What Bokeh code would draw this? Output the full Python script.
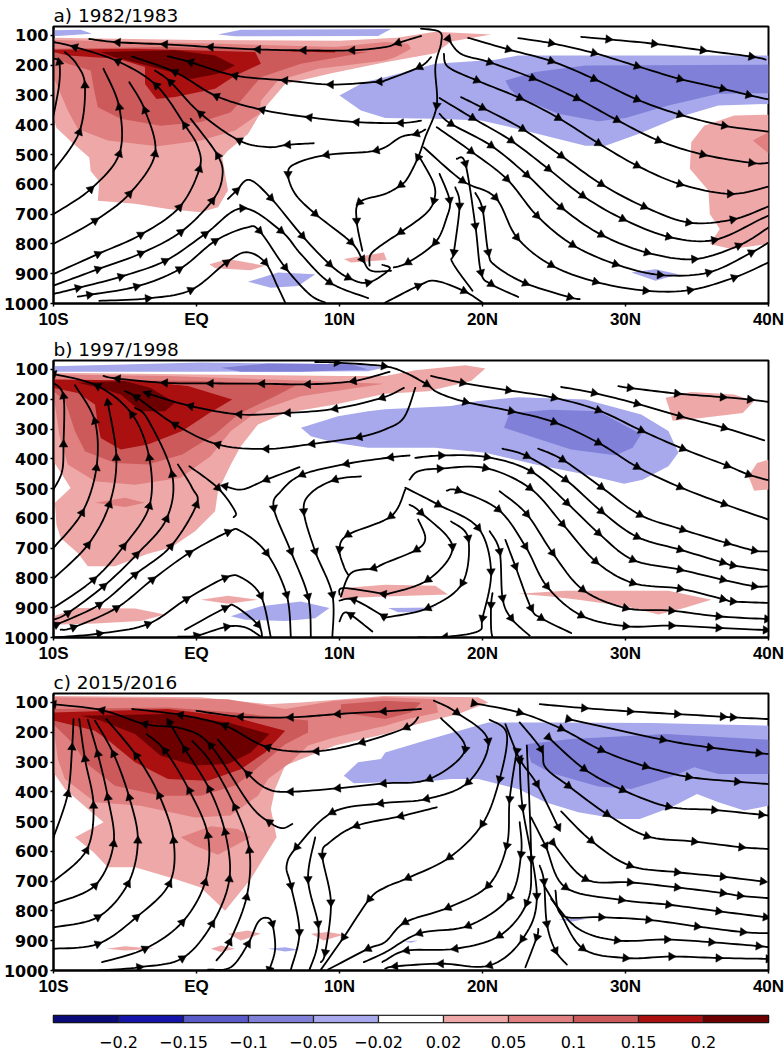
import math
from bokeh.plotting import figure
from bokeh.layouts import column
from bokeh.models import Range1d, FixedTicker, Title
from bokeh.embed import file_html
from bokeh.resources import INLINE

# colour classes: 0..4 blues (weak to strong), 5..9 reds (weak to strong)
B1, B2, B3, B4, B5, P1, P2, P3, P4, P5 = range(10)
class_colors = ["#a8a8ec", "#8080d8", "#5a5ac8", "#1414aa", "#0a0a78",
                "#eea8a8", "#e08080", "#cc5a5a", "#aa1010", "#6c0000"]
bar_colors = ["#0a0a78", "#1414aa", "#5a5ac8", "#8080d8", "#a8a8ec", "#ffffff",
              "#eea8a8", "#e08080", "#cc5a5a", "#aa1010", "#6c0000"]
bar_labels = ["\u22120.2", "\u22120.15", "\u22120.1", "\u22120.05", "\u22120.02",
              "0.02", "0.05", "0.1", "0.15", "0.2"]
lat_ticks = [-10, 0, 10, 20, 30, 40]
lat_labels = ["10S", "EQ", "10N", "20N", "30N", "40N"]
p_ticks = [100, 200, 300, 400, 500, 600, 700, 800, 900, 1000]
titles = ["a) 1982/1983", "b) 1997/1998", "c) 2015/2016"]

shades_a = [
 (P1, [(-10,108),(0,115),(10,118),(14,108),(16.7,88),(20.6,97),(17.8,120),(16.7,160),(13.2,190),(9.6,225),(6.2,263),(5,330),(4.3,375),(3.6,431),(2.2,487),(1.8,509),(2,565),(2.2,621),(1.5,677),(.3,694),(-2,683),(-4.3,665),(-6.9,655),(-6.8,590),(-7.4,555),(-7.5,510),(-8.8,455),(-9.8,410),(-10,375)]),
 (P2, [(-10,115),(.3,126),(9.7,139),(13.2,122),(14.8,128),(15,145),(13.9,173),(13.2,184),(8.5,212),(5.7,251),(4.5,319),(4.4,363),(2.7,419),(.3,453),(-2.7,472),(-6.2,453),(-8.3,414),(-9,352),(-9.6,285),(-10,240)]),
 (P3, [(-10,145),(-2,139),(6.2,150),(12,156),(7.3,195),(4.5,240),(3.1,319),(2.4,358),(.3,391),(-2.5,403),(-5.3,380),(-6.9,341),(-7.2,274),(-7.4,218),(-9,195),(-10,173)]),
 (P4, [(-10,148),(-4.3,145),(4.1,156),(4.5,195),(2.7,235),(1.3,279),(-1.5,307),(-2.8,313),(-3.6,263),(-3.6,206),(-5.5,178),(-9,167),(-10,156)]),
 (P4, [(6.2,150),(9.7,150),(9.7,157),(6.2,153)]),
 (P5, [(-6.7,156),(-1.5,150),(1.3,167),(2.7,201),(1.5,229),(-.4,246),(-1.8,223),(-3.9,195),(-5.7,173)]),
 (B1, [(10,302),(11.7,257),(13.2,240),(16.7,195),(20.9,182),(22.5,167),(40,167),(40,330),(36.5,335),(33.7,375),(30.9,431),(28.6,470),(27.2,470),(22.5,414),(19.9,386),(16.7,380),(13.2,377),(11.5,352)]),
 (B2, [(21.6,251),(23.7,223),(27.2,201),(40,198),(40,294),(36.5,296),(33,335),(30,377),(28.1,388),(25.3,363),(22.5,307),(21.9,279)]),
 (P1, [(40,366),(37.6,369),(35.5,403),(34.6,459),(34.5,548),(35.8,621),(35.9,700),(36.6,750),(35.9,800),(37.4,817),(40,800)]),
 (P2, [(40,425),(38.9,453),(40,496)]),
 (B1, [(30.4,896),(32.1,885),(33.7,902),(32.1,924)]),
 (P1, [(.9,868),(2.2,851),(4.8,873),(3.8,888),(1.3,882)]),
 (P1, [(10.3,851),(13.1,829),(13.3,854),(10.8,862)]),
 (B1, [(3.6,927),(5.7,896),(8.3,902),(7.1,941),(5.2,947)]),
 (B1, [(-10,83),(-8.1,81),(-7.3,94),(-10,103)]),
 (B1, [(1.5,97),(3.1,81),(13.6,78),(12.7,102),(2.7,103)]),
]

streams_a = [
 [(15.7,102),(14.1,125,1),(13.2,139),(10.9,150,1),(7.5,150,1),(4.3,147,1),(1,139,1),(-2.2,130,1),(-5.5,123,1),(-7.5,112)],
 [(-10,901),(-6.9,834,1),(-3.9,769,1),(-1.2,677,1),(.2,549,1),(.1,475),(-.8,402,1),(-2.8,268,1),(-5.5,187,1),(-8.5,139,1),(-10,122)],
 [(-10,800),(-7.1,722,1),(-4.7,632,1),(-2.9,498,1),(-3.6,352,1),(-4.7,257)],
 [(-10,700),(-7.4,616,1),(-5.4,498,1),(-5.4,341,1),(-6.5,212)],
 [(-10,554),(-8.2,425,1),(-7.8,268,1),(-8.4,195),(-9.2,156)],
 [(-10,369),(-9.6,263),(-9.6,190,1),(-10,178)],
 [(-10,940),(-6.9,885,1),(-3.9,832,1),(-1.1,760,1),(1.1,655,1),(1.8,577),(1.5,504,1),(-.4,380)],
 [(-10,968),(-8.3,948,1),(-5.3,910,1),(-2.2,857,1),(.6,767,1),(3.2,680,1),(5.9,756,1),(7.3,834),(9.3,929,1),(12,982)],
 [(-8.3,977),(-7.5,971,1),(-4.2,943,1),(-1.2,885,1),(1.3,790,1),(3.5,745),(4.4,756,1),(6.2,879,1),(7.9,969),(9,997)],
 [(-6.8,991),(-3.4,983,1),(-.4,955,1),(2.1,862,1),(3.5,828),(4.8,862,1),(5.7,946),(6.2,997)],
 [(2.2,649),(2.8,621,1),(3.7,585),(5.2,646,1),(7.4,773,1),(9.3,868,1),(10.6,913,1),(12,930,1),(13.5,885),(13,870)],
 [(16,416),(15.4,430,1),(14.3,441),(12.6,486,1),(9.1,501,1),(6.9,531),(6.4,565,1),(6.9,632),(8.3,699,1),(10.8,794,1),(11.6,851,1),(12.2,890),(13.6,890)],
 [(15.7,77),(17,88),(17.1,127),(16.7,206),(16.8,335,1),(16,441),(15.5,509,1),(14.8,576),(14.3,602,1),(13.2,632),(11.4,660,1),(11.2,722,1),(11.6,823)],
 [(16.4,173),(15.6,206,1),(13.2,251),(12.8,255,1),(9.4,265,1),(6.2,251,1),(2.7,235,1),(-.4,190,1),(-2,170)],
 [(15.7,386),(14.3,394,1),(11.2,391,1),(7.9,375,1),(4.6,350,1),(1.4,304,1),(-1.5,223,1),(-4.5,171)],
 [(8.2,462),(6.4,467,1),(5,475),(3,453,1),(.3,363,1),(-1.8,257,1),(-2.9,218)],
 [(15.6,509),(16.6,599),(16.6,655,1),(16,700),(14.3,760,1),(13.2,795),(12.2,834),(12.1,873)],
 [(17,565),(17.7,653,1),(17.5,711),(16.7,795,1),(14.8,862,1),(13.8,879)],
 [(18.1,610),(18.4,671,1),(18,828,1),(17.9,862),(19.3,957)],
 [(18.2,514),(18.8,530,1),(19.5,739,1),(19.9,896,1),(20.6,935,1),(22.5,978)],
 [(19.5,629),(20,683,1),(20.4,828,1),(20.9,873),(23,932,1),(26.1,979,1),(26.8,985)],
 [(13.2,997),(15.5,941,1),(16.7,924),(18.7,958,1),(20,997)],
 [(26.9,105),(28.8,113,1),(32,128,1),(35.4,150,1),(38.8,171,1),(39.8,181)],
 [(22.5,109),(24.8,126,1),(27.8,159,1),(30.8,203,1),(33.8,246,1),(36.8,279,1),(38.6,300,1),(40,315)],
 [(19,108),(21.8,147,1),(24.8,186,1),(27.8,246,1),(30.8,315,1),(33.8,366,1),(36.9,403,1),(40,423)],
 [(17.6,111,1),(18.5,162),(20.5,190,1),(23.5,243,1),(26.6,311,1),(29.4,384,1),(32.3,453,1),(35.4,500,1),(38.8,528,1),(40,528)],
 [(17.3,162),(17.6,206),(19.6,251,1),(22.6,310,1),(25.3,377,1),(28.1,462,1),(30.8,537,1),(33.8,599,1),(37.3,632,1),(40,608)],
 [(17,310),(19.3,377,1),(22,453,1),(24.6,548,1),(27,638,1),(29.8,716,1),(33,776,1),(36.2,787,1),(39.4,718),(40,705)],
 [(18.5,307),(20,343,1),(22.8,414,1),(25.5,504,1),(28.3,599,1),(31.3,675,1),(34.4,728,1),(37.5,718,1),(40,674)],
 [(17,363),(17.8,397,1),(20.6,470,1),(23.1,568,1),(25.5,677,1),(28.3,769,1),(31.5,829,1),(34.8,851,1),(37.9,806,1),(40,745)],
 [(16.8,408),(19.2,489,1),(21.7,582,1),(23.8,705,1),(26.3,803,1),(29.3,868,1),(32.4,904,1),(35.8,896,1),(38.8,829,1),(40,795)],
 [(15.9,476),(18.6,588,1),(20.9,644,1),(22.4,778,1),(24.8,871,1),(27.9,927,1),(31.4,957,1),(34.5,955,1),(37.6,913,1),(40,862)],
]

shades_b = [
 (P1, [(-10,111),(.3,117),(10,122),(13.2,122),(15.3,103),(18.8,86),(20.2,97),(19.2,139),(16.2,173),(13.2,182),(9.7,218),(6.2,246),(4.3,285),(3.1,358),(2.4,419),(1.5,509),(1.3,576),(-.1,643),(-1.8,699),(-3.4,719),(-5.7,761),(-7.6,761),(-8.3,716),(-9.5,666),(-9.8,621),(-9.9,548),(-8.8,498),(-9.7,431),(-10,408)]),
 (P2, [(-10,117),(-2,122),(7.3,137),(13.1,148),(7.3,190),(4.3,240),(2.4,307),(1,391),(-1.1,464),(-4.3,487),(-7.1,475),(-9,419),(-9.6,319),(-10,184)]),
 (P2, [(-7.1,548),(-5,531),(-3.6,548),(-5,562)]),
 (P3, [(-10,134),(.3,139),(7.1,150),(5.5,190),(2.9,251),(1.3,318),(-1,386),(-3.4,419),(-5.7,414),(-7.8,375),(-8.5,307),(-9.2,206),(-10,173)]),
 (P4, [(-10,134),(-4.3,137),(-.6,156),(2.5,201),(.9,246),(-1,307),(-3.4,352),(-5.3,369),(-6.7,330),(-6.9,285),(-7.1,218),(-8.3,179),(-10,162)]),
 (P5, [(-8.3,145),(-5,139),(-3.2,162),(-1.5,212),(-2.2,240),(-3.9,240),(-5.3,184),(-6.7,162)]),
 (P1, [(-10,929),(-8.3,901),(-4.3,903),(-2.2,923),(-3.9,945),(-7.1,953),(-10,957)]),
 (P1, [(.3,873),(2.2,860),(4.3,873),(2.2,887)]),
 (P1, [(10.3,834),(13.2,823),(16.7,826),(17.6,856),(13.2,862),(10,868)]),
 (B1, [(-10,89),(.3,77),(12,83),(13.1,94),(12,106),(.3,108),(-10,108)]),
 (B2, [(1.7,94),(5,80),(10.8,83),(12,100),(7.3,108),(3.1,108)]),
 (B1, [(7.3,296),(9.9,257),(12,240),(13.2,234),(17.8,223),(19.7,206),(22.5,193),(27.2,201),(31.1,251),(33,307),(33.7,380),(33,425),(31.2,470),(29.9,484),(27.2,453),(23.7,419),(20.2,380),(16.7,363),(13.2,363),(12,363),(9.7,346),(8,324)]),
 (B2, [(21.9,246),(24.8,235),(28.1,240),(31.1,318),(30.5,363),(29.3,388),(26.2,369),(23.7,330),(21.5,296)]),
 (P1, [(32.8,195),(34.6,176),(37.6,184),(39,206),(38.2,246),(35.3,263),(33.3,272),(33,223)]),
 (P1, [(40,403),(39.2,414),(38.6,459),(39,507),(40,503)]),
 (P1, [(22.5,853),(25.8,843),(33,843),(36,873),(34.1,901),(32.3,923),(30,895),(26.7,873),(24.8,862)]),
 (B1, [(13.4,901),(16.7,899),(15.5,915),(14.1,915)]),
 (B1, [(2.4,929),(4.5,895),(7.3,879),(9.3,901),(8.3,935),(6.2,945),(3.4,940)]),
]

streams_b = [
 [(13.5,108),(11,139,1),(7.8,150,1),(4.6,148,1),(1,147,1),(-2.2,145,1),(-5.5,131,1),(-6.5,122)],
 [(14.5,162),(13,195,1),(9.7,232,1),(6.4,246,1),(3,251,1),(-.4,223,1),(-3.4,181,1),(-3.6,175)],
 [(15.3,162),(14.5,262),(13.2,301),(11.4,327,1),(8.1,350,1),(4.9,367,1),(1.5,352,1),(-1.5,285,1),(-4.2,193,1),(-5,173)],
 [(-10,699),(-8,581,1),(-7,431,1),(-7.1,274,1),(-8.5,153)],
 [(-10,802),(-7.6,689,1),(-6.1,554,1),(-5.6,397,1),(-6.2,212,1)],
 [(-10,901),(-7.2,806,1),(-5.1,694,1),(-3.3,559,1),(-3.3,397,1),(-4.5,251,1),(-6.9,156,1),(-10,115,1)],
 [(-10,940),(-9,918,1),(-6.5,828,1),(-4.2,722,1),(-2.1,602,1),(-1.7,453,1),(-3.4,268),(-4.3,229)],
 [(-10,965),(-9.8,957,1),(-6.8,890,1),(-4.3,789,1),(-1.8,694,1),(0,554,1),(-.3,498),(-1.3,419)],
 [(-9.5,974),(-8.6,966,1),(-5.6,901,1),(-3.1,806,1),(-.5,716,1),(2.2,646,1),(3.1,643),(4.9,716,1),(6.3,856,1),(6.6,1000)],
 [(-10,1000),(-6.8,987,1),(-3.4,955,1),(-.7,871,1),(2,800,1),(3.1,798),(4.5,860,1),(5.2,1000)],
 [(-.8,974),(2,901,1),(2.7,895),(4.3,957,1),(4.6,1000)],
 [(-1.3,997),(0,994,1),(2.1,964,1),(3.4,966),(4.5,997)],
 [(-10,503),(-9.4,442),(-9.3,352,1),(-9.3,190,1),(-10,145)],
 [(-.5,425),(1.5,498,1),(2.7,576),(2.6,596)],
 [(7.2,428),(4.9,470,1),(3.2,503),(2,492,1)],
 [(14.9,389),(13.6,395,1),(10.5,417,1),(7.4,453,1),(5.9,509),(5.4,565,1),(6.6,711,1),(7.8,862,1),(8,1000)],
 [(11.5,459),(9.7,470,1),(8,515),(7.5,576,1),(8.3,711,1),(9.5,856,1),(9.5,1000)],
 [(14.6,503),(13.6,593,1),(10.6,655,1),(10,703,1),(10.3,761),(10.6,789)],
 [(15.5,604),(16,666),(15.4,705,1),(13.2,750),(12.4,767,1),(10.8,784),(10.1,862)],
 [(14.9,554),(15.7,581,1),(17.9,694,1),(16.2,806,1),(13.2,856),(13.1,854,1),(10.3,834),(10,856)],
 [(17.8,610),(19,666,1),(18.6,817,1),(16.2,901,1),(13.2,933),(13.1,929,1),(11,873,1),(10,876)],
 [(12.3,980),(10.8,924,1),(10.3,918),(10,946)],
 [(14.6,497),(16.9,554,1),(19.7,632,1),(20.6,778,1),(20,935,1),(19.7,979),(17.4,998,1),(15.5,1000)],
 [(20.7,851),(20.6,890,1),(20.6,968),(20.7,1000)],
 [(20.5,643),(21.2,711,1),(21.4,867,1),(22,935,1),(23.3,994)],
 [(21.6,672),(22.3,761,1),(23.4,901,1),(24.1,935,1),(26.2,985)],
 [(17.5,507),(18.3,507,1),(21.1,570,1),(23,694,1),(24.5,828,1),(26.9,926,1),(30,962,1),(33.2,960,1),(36.5,968,1),(39.8,975,1),(40,976)],
 [(21.2,509),(23.1,586,1),(24.9,716,1),(27,839,1),(30,901,1),(33.2,910,1),(36.5,929,1),(39.9,938,1),(40,938)],
 [(14.9,470),(15.5,442),(17,433,1),(20.2,431,1),(23.3,498,1),(25.6,619,1),(27.9,744,1),(30.5,817,1),(33.8,836,1),(36.8,871,1),(37.5,879,1),(40,884)],
 [(15.3,397),(17.1,389,1),(20.3,394,1),(23.4,442,1),(25.9,548,1),(28.1,649,1),(30.5,739,1),(33.8,772,1),(36.8,806,1),(39,828,1),(40,828)],
 [(21.4,366),(23.1,391,1),(25.8,470,1),(28.3,576,1),(30.8,662,1),(33.8,705,1),(36.8,748,1),(37.5,758,1),(40,775)],
 [(23.9,366),(25.6,403,1),(28.3,495,1),(31,588,1),(34,638,1),(37.1,683,1),(39,708,1),(40,711)],
 [(8.3,75),(9.8,77,1),(13.1,89,1),(14.6,111),(16.1,150,1),(16.9,178),(18.8,209,1),(22,240,1),(25,277,1),(28.1,346,1),(30.8,427,1),(33.8,495,1),(36.9,552,1),(40,604)],
 [(16.4,122),(18.6,145,1),(21.8,170,1),(25,195,1),(28.1,237,1),(31.1,305,1),(34,366,1),(37.1,423,1),(38.6,453,1),(40,472)],
 [(25.5,159),(27.8,179,1),(30.8,215,1),(33.8,257,1),(36.9,296,1),(39.7,338)],
 [(29.5,156),(30.3,162,1),(33.6,181,1),(36.8,193,1),(38.7,201,1),(40,209)],
]

shades_c = [
 (P1, [(-10,78),(.3,83),(5,106),(7.3,100),(13.1,78),(19.7,83),(20.4,100),(18.3,139),(15,178),(13.2,206),(9.7,245),(6.2,312),(5.5,391),(5.2,458),(5.6,553),(4.5,637),(3.8,693),(2,799),(.3,721),(-1.5,693),(-4.3,653),(-6.2,653),(-7.2,603),(-8.5,553),(-6.5,502),(-7.6,458),(-9.2,391),(-10,335)]),
 (P2, [(-10,83),(2.2,89),(6.2,122),(9.7,94),(13.1,83),(16.7,89),(16.9,134),(14.8,156),(13.2,178),(9.7,217),(7.8,245),(6.6,301),(5,357),(4.3,413),(2.4,480),(-.1,486),(-3.9,447),(-7.1,435),(-9.2,357),(-9.7,290),(-10,178)]),
 (P2, [(-1.1,553),(1,516),(2.9,525),(3.8,553),(1.5,611),(-.1,581)]),
 (P3, [(-10,122),(-2,117),(2.7,134),(7.8,161),(7.8,201),(6.2,240),(5,290),(3.6,346),(2.7,379),(.3,413),(-2.5,413),(-5.7,380),(-7.8,301),(-8.5,245),(-10,173)]),
 (P3, [(10.1,106),(13.1,94),(15.7,100),(15,134),(13.2,156),(10.1,134)]),
 (P4, [(-10,134),(-2,122),(2.7,150),(6.2,195),(4.8,268),(3.1,324),(.8,363),(-2,357),(-4.3,301),(-6,234),(-7.1,195),(-10,161)]),
 (P5, [(-8.1,145),(-2,139),(2.2,167),(5.1,206),(3.8,268),(2.2,307),(-.1,312),(-2.5,279),(-4.3,206),(-6.7,161)]),
 (P1, [(-6.3,927),(-5,919),(-2.9,927),(-5,933)]),
 (P1, [(1,927),(1.7,916),(2.7,927),(1.7,938)]),
 (P1, [(2.2,877),(3.6,866),(4.5,877),(3.1,899)]),
 (P1, [(8,877),(9.2,871),(10.3,880),(8.9,899)]),
 (B1, [(5,927),(6.2,922),(7.2,930),(6.2,936)]),
 (B1, [(10.3,346),(11.3,301),(12.9,290),(13.2,268),(16,228),(18.8,189),(20.4,167),(24.8,167),(31.8,169),(40,178),(40,447),(38.3,463),(36.5,435),(35,407),(33.2,452),(31,491),(29.5,491),(26.7,469),(24.4,435),(22.5,391),(19.7,357),(17.8,357),(15.5,368),(13.2,368),(11,371)]),
 (B2, [(23,240),(26.2,223),(32.8,206),(40,225),(40,340),(36.5,340),(34.8,318),(33.4,346),(30.4,391),(28.1,382),(24.8,337),(23.4,301)]),
 (B1, [(25.3,827),(27.2,827),(26.2,836)]),
 (B1, [(14.5,903),(15.5,899),(15,907)]),
]

streams_c = [
 [(15.7,122),(13.1,130,1),(9.9,139,1),(6.6,150,1),(3.1,148,1),(0,128)],
 [(15.5,150),(14.7,184,1),(11.6,234,1),(8.4,264,1),(5,251,1),(2,178,1),(-1.1,142,1),(-4.5,122)],
 [(6.7,508),(6,522),(5.1,502,1),(3.7,441),(1,245,1),(-.9,189),(-3.6,173,1),(-6.6,126,1),(-10,106,1)],
 [(-10,553),(-9,407,1),(-8.7,251,1),(-8.6,156)],
 [(-10,701),(-7.7,597,1),(-7.2,447,1),(-7.8,290,1),(-8.2,156)],
 [(-10,776),(-7.1,715,1),(-5.8,575,1),(-6.2,419,1),(-6.9,273,1),(-7.6,158)],
 [(-10,855),(-6.9,821,1),(-4.8,709,1),(-4.1,564,1),(-4.7,419,1),(-5.8,273,1),(-7.1,161)],
 [(-10,927),(-6.9,911,1),(-4.2,821,1),(-1.9,709,1),(-1.6,564,1),(-2.6,413,1),(-4.2,279,1),(-6.3,156)],
 [(-6.6,972),(-3.6,927,1),(-1,838,1),(.6,704,1),(.8,547,1),(-.5,396,1),(-2.2,262,1),(-3.5,206)],
 [(-6.8,1000),(-4,989,1),(-1,959,1),(1.1,843,1),(2.3,693,1),(2,536,1),(.9,391,1),(-.8,257,1),(-1.9,167,1)],
 [(1.4,966),(2.3,905,1),(3.5,754,1),(3.7,597,1),(2.7,452,1),(1,301),(-.3,229)],
 [(.8,997),(2.4,989),(3.6,911,1),(4.3,838),(4.9,823),(5.3,843,1),(5.5,927),(5.1,997,1)],
 [(17.1,153),(18.8,257,1),(16.3,357,1),(13.1,372,1),(9.9,388,1),(6.6,400,1),(5,391),(3.6,340,1),(1.5,225)],
 [(16.6,94),(18.2,134,1),(20.4,229,1),(19,368,1),(16.1,424,1),(12.9,439,1),(9.5,469,1),(7,586,1),(6.3,648),(6.6,715,1),(7.2,871,1),(6.6,997)],
 [(8.3,553),(7.8,693,1),(8.5,843,1),(8.4,927),(7.9,997)],
 [(16.8,452),(14.3,482,1),(11.2,514,1),(9.3,570),(8.8,614,1),(9.4,771,1),(9,939,1),(8.7,972)],
 [(20.5,158),(21.7,206),(21.2,357,1),(20,508,1),(17.7,620,1),(14.8,689,1),(13.2,721),(12.1,760,1),(10.3,888,1),(8.7,997)],
 [(22.4,262,1),(21.9,424,1),(21.7,581,1),(20.4,715,1),(17.6,789,1),(14.6,838,1),(13.2,904),(12,927,1),(9.2,997)],
 [(22.6,502),(22.7,609,1),(21.9,754,1),(19,850,1),(15.6,875,1),(13.2,939),(11.7,972)],
 [(23.1,245),(23.4,625,1),(23.1,773,1),(21.2,883,1),(18.1,927,1),(14.7,933,1),(13.2,966),(13,972)],
 [(22.6,296,1),(22.8,452,1),(23.8,749,1),(22.8,894,1),(20.5,983,1),(17.1,977,1),(13.9,986,1),(13.2,994)],
 [(23.9,860),(23.8,888,1),(23,989)],
 [(24,648),(24.3,701,1),(24.5,843,1),(25.1,933,1),(25.9,980)],
 [(25.1,732),(25.6,816),(28.3,821,1),(31.6,830,1),(35,852,1),(38.2,871,1),(40,875)],
 [(24.3,715),(25.3,794),(27,926,1),(30,958,1),(33.2,953,1),(36.5,958,1),(40,961,1)],
 [(24.8,760),(26.7,860),(29.4,899,1),(32.9,896,1),(36,905,1),(39.3,918,1),(40,922)],
 [(23.4,486),(24.4,581,1),(25.8,721,1),(29.7,763,1),(33,779,1),(36.5,801,1),(39.8,821,1)],
 [(24.9,570,1),(27.2,693,1),(30.3,704,1),(33.6,721,1),(36.8,740,1),(38,749,1),(40,757)],
 [(25.5,466),(27.6,564,1),(30.3,648,1),(33.6,670,1),(36.8,685,1),(39.6,701,1)],
 [(22.6,167),(24.1,257,1),(24.4,318),(26,380,1),(28.7,475,1),(31.5,549,1),(34.8,567,1),(38.1,586,1),(40,592)],
 [(21.6,173),(22.6,290,1),(23.8,374,1),(25.3,519,1)],
 [(24.6,217,1),(27.1,323,1),(29.8,394,1),(33,450,1),(36.2,461,1),(39.5,477,1),(40,480)],
 [(19.4,103,1),(22.6,134,1),(25.5,188,1),(28.3,260,1),(31.4,315,1),(34.4,350,1),(37.8,366,1),(40,374)],
 [(24,106),(27.1,119,1),(30.3,130,1),(33.6,139,1),(36.8,148,1),(37.5,150,1),(40,156)],
 [(26,156,1),(32.6,225,1),(35.9,251,1),(39.3,270,1),(40,273)],
]

LAT0, LAT1, P_TOP, P_BOT = -10, 40, 70, 1000
FRAME_W, FRAME_H = 716, 277
PX_LAT = FRAME_W / (LAT1 - LAT0)
PX_P = FRAME_H / (P_BOT - P_TOP)


def smooth(pts, n=10):
    """Catmull-Rom curve through the read points (only rounds the drawn line)."""
    xs, ys = [], []
    m = len(pts)
    for i in range(m - 1):
        p0 = pts[max(i - 1, 0)]
        p1, p2 = pts[i], pts[i + 1]
        p3 = pts[min(i + 2, m - 1)]
        for k in range(n):
            t = k / n
            f = lambda a, b, c, d: 0.5 * (2 * b + (c - a) * t + (2 * a - 5 * b + 4 * c - d) * t * t + (3 * b - a - 3 * c + d) * t ** 3)
            xs.append(f(p0[0], p1[0], p2[0], p3[0]))
            ys.append(f(p0[1], p1[1], p2[1], p3[1]))
    xs.append(pts[-1][0])
    ys.append(pts[-1][1])
    return xs, ys


def panel(title, shades, streams, top, bottom):
    p = figure(width=784, height=top + FRAME_H + bottom, output_backend="svg", toolbar_location=None,
               x_range=Range1d(LAT0, LAT1), y_range=Range1d(P_BOT, P_TOP),
               min_border_left=52, min_border_right=16, min_border_top=top, min_border_bottom=bottom,
               background_fill_color="white", border_fill_color="white",
               title=Title(text=title, align="left", text_font="DejaVu Sans", text_font_style="normal",
                           text_font_size="18.5px", text_color="#000000", standoff=2))
    p.grid.visible = False
    p.outline_line_color = "#000000"
    p.outline_line_width = 2

    for level, pts in shades:
        p.patch([q[0] for q in pts], [q[1] for q in pts], fill_color=class_colors[level], line_color=None)

    ax, ay, aa = [], [], []
    for line in streams:
        xs, ys = smooth(line)
        p.line(xs, ys, line_color="#000000", line_width=1.8, line_join="round", line_cap="round")
        for i, q in enumerate(line):
            if len(q) == 3:
                a = line[max(i - 1, 0)]
                b = line[min(i + 1, len(line) - 1)]
                dx = (b[0] - a[0]) * PX_LAT
                dy = -(b[1] - a[1]) * PX_P
                ax.append(q[0])
                ay.append(q[1])
                aa.append(math.atan2(dy, dx) - math.pi / 2)
    p.scatter(ax, ay, marker="triangle", size=8.5, angle=aa, angle_units="rad",
              fill_color="#000000", line_color="#000000", line_width=0.5)

    xa, ya = p.xaxis[0], p.yaxis[0]
    xa.ticker = FixedTicker(ticks=lat_ticks)
    xa.major_label_overrides = dict(zip(lat_ticks, lat_labels))
    xa.major_label_text_font = "Liberation Sans"
    xa.major_label_text_font_style = "bold"
    xa.major_label_text_font_size = "17px"
    xa.major_label_standoff = 3
    ya.ticker = FixedTicker(ticks=p_ticks)
    ya.major_label_text_font = "DejaVu Sans"
    ya.major_label_text_font_style = "bold"
    ya.major_label_text_font_size = "16px"
    ya.major_label_standoff = 2
    for ax_ in (xa, ya):
        ax_.axis_line_color = "#000000"
        ax_.axis_line_width = 2
        ax_.major_tick_line_color = "#000000"
        ax_.major_tick_line_width = 1.5
        ax_.major_tick_in = 0
        ax_.major_tick_out = 3
        ax_.minor_tick_line_color = None
        ax_.major_label_text_color = "#000000"
    return p


fig_a = panel(titles[0], shades_a, streams_a, 26, 28)
fig_b = panel(titles[1], shades_b, streams_b, 29, 28)
fig_c = panel(titles[2], shades_c, streams_c, 28, 30)

bar = figure(width=784, height=50, output_backend="svg", toolbar_location=None,
             x_range=Range1d(0, len(bar_colors)), y_range=Range1d(0, 1),
             min_border_left=52, min_border_right=16, min_border_top=15, min_border_bottom=24,
             background_fill_color="white", border_fill_color="white")
bar.grid.visible = False
bar.yaxis.visible = False
bar.outline_line_color = "#000000"
bar.outline_line_width = 1.5
bar.quad(left=list(range(len(bar_colors))), right=list(range(1, len(bar_colors) + 1)), bottom=0, top=1,
         fill_color=bar_colors, line_color="#222222", line_width=1.2)
tick_pos = list(range(1, len(bar_labels) + 1))
bx = bar.xaxis[0]
bx.ticker = FixedTicker(ticks=tick_pos)
bx.major_label_overrides = dict(zip(tick_pos, bar_labels))
bx.major_label_text_font = "DejaVu Sans"
bx.major_label_text_font_size = "16px"
bx.major_label_text_color = "#000000"
bx.major_label_standoff = 7
bx.major_tick_line_color = None
bx.minor_tick_line_color = None
bx.axis_line_color = None

page = column(fig_a, fig_b, fig_c, bar, spacing=0)
open("out.html", "w").write(file_html(page, INLINE))
